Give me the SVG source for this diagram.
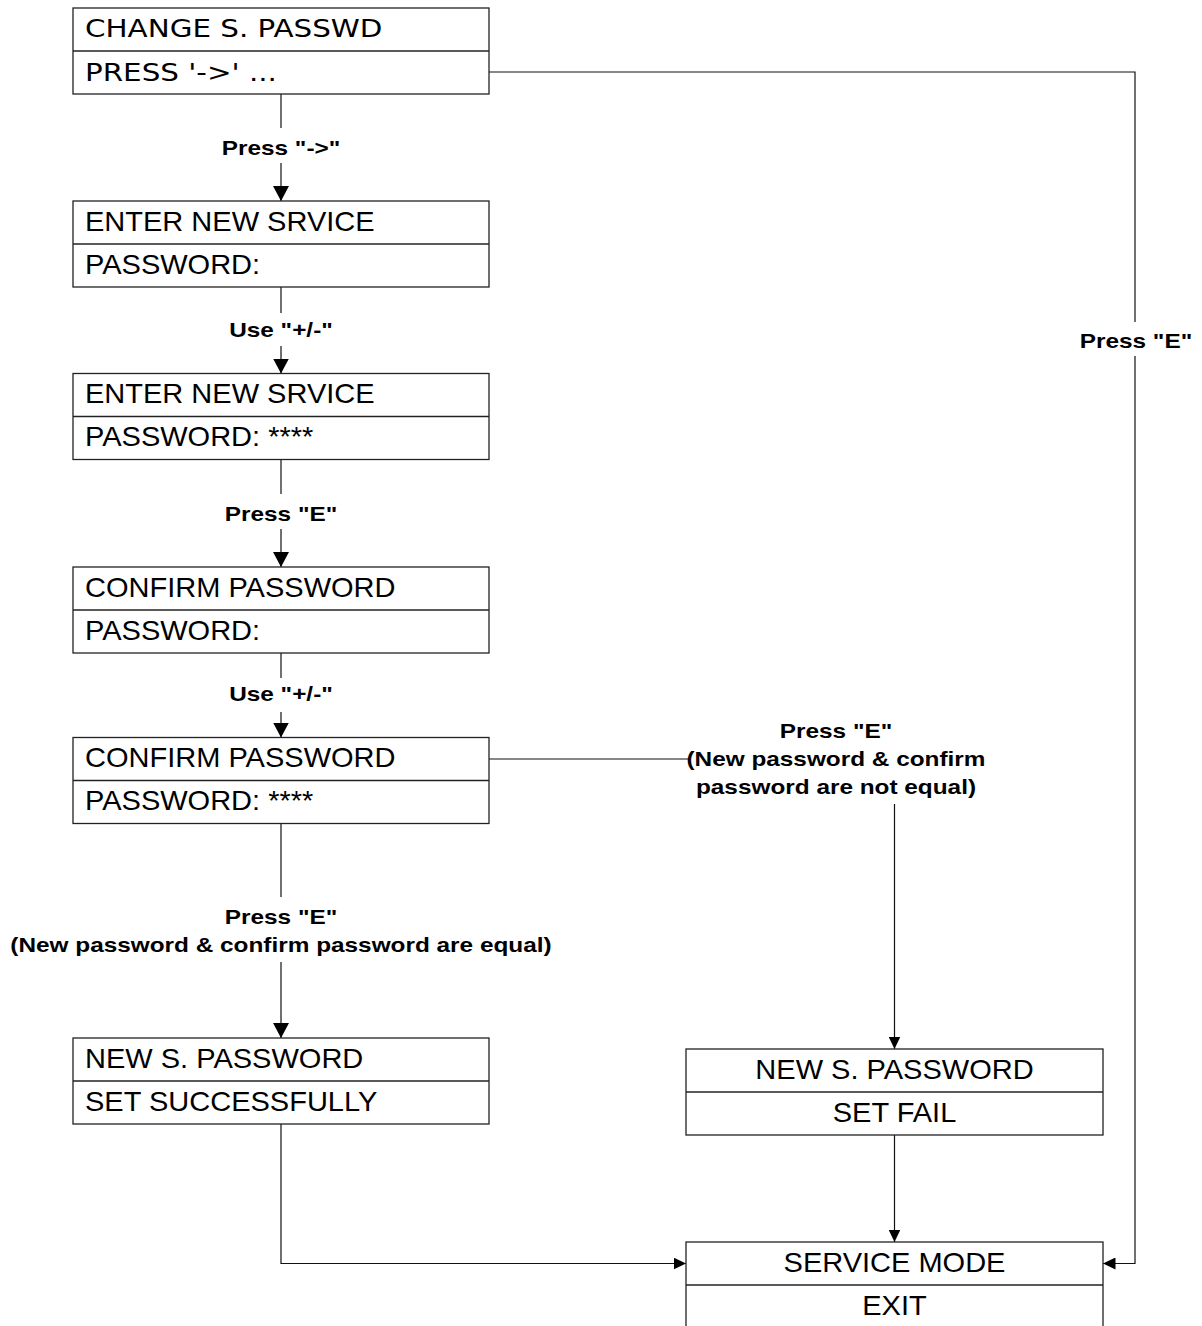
<svg xmlns="http://www.w3.org/2000/svg" width="1202" height="1326" viewBox="0 0 1202 1326">
<style>
  .bx { fill: #fff; stroke: #222; stroke-width: 1.3; }
  .dv { stroke: #222; stroke-width: 1.3; }
  .t { font-family: "Liberation Sans", Arial, sans-serif; font-size: 27px; fill: #000; transform-box: fill-box; transform-origin: left center; transform: scaleX(1.075); }
  .tc { font-family: "Liberation Sans", Arial, sans-serif; font-size: 27px; fill: #000; text-anchor: middle; transform-box: fill-box; transform-origin: center; transform: scaleX(1.075); }
  .tt { font-family: "DejaVu Sans", Verdana, sans-serif; font-size: 25px; fill: #000; transform-box: fill-box; transform-origin: left center; transform: scaleX(1.175); }
  .lb { font-family: "Liberation Sans", Arial, sans-serif; font-size: 21px; font-weight: bold; fill: #000; text-anchor: middle; transform-box: fill-box; transform-origin: center; transform: scaleX(1.16); }
  .ln { fill: none; stroke: #111; stroke-width: 1.2; }
  .big { marker-end: url(#ab); }
  .sm { marker-end: url(#as); }
</style>
<defs>
  <marker id="ab" markerUnits="userSpaceOnUse" markerWidth="16" markerHeight="16" refX="15" refY="8" orient="auto" viewBox="0 0 16 16">
    <path d="M0,0 L15,8 L0,16 z" fill="#000"/>
  </marker>
  <marker id="as" markerUnits="userSpaceOnUse" markerWidth="13" markerHeight="12" refX="12.5" refY="6" orient="auto" viewBox="0 0 13 12">
    <path d="M0,0 L12.5,6 L0,12 z" fill="#000"/>
  </marker>
</defs>

<g id="connectors">
  <path class="ln" d="M281,94 V128"/>
  <path class="ln big" d="M281,163 V201"/>
  <path class="ln" d="M281,287 V313"/>
  <path class="ln big" d="M281,346 V373.5"/>
  <path class="ln" d="M281,459.5 V494"/>
  <path class="ln big" d="M281,529 V567"/>
  <path class="ln" d="M281,653 V678"/>
  <path class="ln big" d="M281,712 V737.5"/>
  <path class="ln" d="M281,823.5 V897"/>
  <path class="ln big" d="M281,962 V1038"/>
  <path class="ln sm" d="M281,1124 V1263.5 H686"/>
  <path class="ln" d="M489,759 H689"/>
  <path class="ln sm" d="M894.5,804 V1049"/>
  <path class="ln sm" d="M894.5,1135 V1242"/>
  <path class="ln" d="M489,72 H1135 V322"/>
  <path class="ln sm" d="M1135,356 V1263.5 H1103"/>
  <text class="lb" x="281" y="155">Press "-&gt;"</text>
  <text class="lb" x="281" y="337">Use "+/-"</text>
  <text class="lb" x="281" y="521">Press "E"</text>
  <text class="lb" x="281" y="701.5">Use "+/-"</text>
  <text class="lb" x="281" y="924">Press "E"</text>
  <text class="lb" x="281" y="952">(New password &amp; confirm password are equal)</text>
  <text class="lb" x="836" y="738">Press "E"</text>
  <text class="lb" x="836" y="766">(New password &amp; confirm</text>
  <text class="lb" x="836" y="794">password are not equal)</text>
  <text class="lb" x="1136" y="348">Press "E"</text>
</g>

<g id="n1">
  <rect class="bx" x="73" y="8" width="416" height="86"/>
  <line class="dv" x1="73" y1="51" x2="489" y2="51"/>
  <text class="tt" x="85" y="37.5">CHANGE S. PASSWD</text>
  <text class="tt" x="85" y="81.5">PRESS '-&gt;' ...</text>
</g>
<g id="n2">
  <rect class="bx" x="73" y="201" width="416" height="86"/>
  <line class="dv" x1="73" y1="244" x2="489" y2="244"/>
  <text class="t" x="85" y="231">ENTER NEW SRVICE</text>
  <text class="t" x="85" y="274">PASSWORD:</text>
</g>
<g id="n3">
  <rect class="bx" x="73" y="373.5" width="416" height="86"/>
  <line class="dv" x1="73" y1="416.5" x2="489" y2="416.5"/>
  <text class="t" x="85" y="403.5">ENTER NEW SRVICE</text>
  <text class="t" x="85" y="446.5">PASSWORD: ****</text>
</g>
<g id="n4">
  <rect class="bx" x="73" y="567" width="416" height="86"/>
  <line class="dv" x1="73" y1="610" x2="489" y2="610"/>
  <text class="t" x="85" y="597">CONFIRM PASSWORD</text>
  <text class="t" x="85" y="640">PASSWORD:</text>
</g>
<g id="n5">
  <rect class="bx" x="73" y="737.5" width="416" height="86"/>
  <line class="dv" x1="73" y1="780.5" x2="489" y2="780.5"/>
  <text class="t" x="85" y="767.5">CONFIRM PASSWORD</text>
  <text class="t" x="85" y="810.5">PASSWORD: ****</text>
</g>
<g id="n6">
  <rect class="bx" x="73" y="1038" width="416" height="86"/>
  <line class="dv" x1="73" y1="1081" x2="489" y2="1081"/>
  <text class="t" x="85" y="1068">NEW S. PASSWORD</text>
  <text class="t" x="85" y="1111">SET SUCCESSFULLY</text>
</g>
<g id="n7">
  <rect class="bx" x="686" y="1049" width="417" height="86"/>
  <line class="dv" x1="686" y1="1092" x2="1103" y2="1092"/>
  <text class="tc" x="894.5" y="1079">NEW S. PASSWORD</text>
  <text class="tc" x="894.5" y="1122">SET FAIL</text>
</g>
<g id="n8">
  <rect class="bx" x="686" y="1242" width="417" height="86"/>
  <line class="dv" x1="686" y1="1285" x2="1103" y2="1285"/>
  <text class="tc" x="894.5" y="1272">SERVICE MODE</text>
  <text class="tc" x="894.5" y="1315">EXIT</text>
</g>
</svg>
